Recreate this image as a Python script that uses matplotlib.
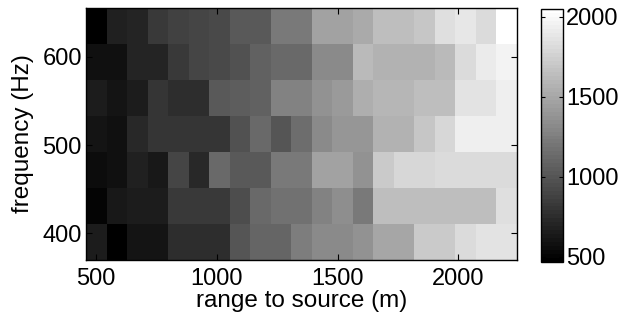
import numpy as np
import matplotlib
matplotlib.use("Agg")
import matplotlib.pyplot as plt

plt.rcParams['font.family'] = ['Liberation Sans', 'DejaVu Sans']

# range to source (m), cell centres
ranges = [500, 585, 670, 755, 840, 925, 1010, 1095, 1180, 1265, 1350,
          1435, 1520, 1605, 1690, 1775, 1860, 1945, 2030, 2115, 2200]
# frequency (Hz), cell centres
freqs = [390, 431, 472, 512, 553, 594, 635]

# values per frequency row (bottom to top)
row_390 = [645, 470, 605, 605, 755, 755, 755, 1000, 1100, 1100, 1250,
           1310, 1310, 1370, 1485, 1485, 1705, 1705, 1805, 1865, 1865]
row_431 = [505, 630, 655, 655, 830, 830, 830, 940, 1125, 1175, 1175,
           1260, 1345, 1210, 1650, 1650, 1650, 1650, 1650, 1650, 1830]
row_472 = [545, 580, 670, 620, 905, 730, 1125, 1025, 1025, 1225, 1225,
           1460, 1460, 1360, 1705, 1790, 1790, 1815, 1815, 1815, 1815]
row_512 = [605, 580, 730, 790, 790, 805, 805, 965, 1115, 1000, 1135,
           1325, 1395, 1395, 1570, 1570, 1695, 1790, 1940, 1940, 1940]
row_553 = [645, 595, 645, 790, 765, 765, 1015, 1040, 1075, 1260, 1260,
           1360, 1410, 1540, 1580, 1580, 1650, 1650, 1850, 1865, 1940]
row_594 = [580, 570, 715, 715, 815, 890, 925, 965, 1075, 1125, 1125,
           1310, 1310, 1605, 1570, 1570, 1570, 1615, 1805, 1915, 1970]
row_635 = [470, 680, 700, 815, 865, 895, 915, 1015, 1025, 1210, 1210,
           1470, 1470, 1510, 1645, 1645, 1680, 1825, 1890, 1805, 2045]

xticks = [500, 1000, 1500, 2000]
yticks = [400, 500, 600]
cticks = [500, 1000, 1500, 2000]

Z = np.array([row_390, row_431, row_472, row_512, row_553, row_594, row_635])

fig = plt.figure(figsize=(6.24, 3.22), dpi=100)
ax = fig.add_axes([86/624, 1-260/322, (517-86)/624, (260-8)/322])
cmap = plt.get_cmap('gray', 64)
mesh = ax.pcolormesh(ranges, freqs, Z, shading='nearest', cmap=cmap,
                     vmin=470, vmax=2045)
ax.set_xticks(xticks)
ax.set_yticks(yticks)
ax.tick_params(direction='in', length=4, width=0.8, labelsize=17,
               top=True, right=True, colors='black')
ax.tick_params(axis='x', pad=6)
ax.tick_params(axis='y', pad=3)
for s in ax.spines.values():
    s.set_linewidth(1.0)
ax.set_xlabel('range to source (m)', fontsize=17.5, labelpad=0)
ax.set_ylabel('frequency (Hz)', fontsize=17.5, labelpad=6)

cax = fig.add_axes([541/624, 1-261.7/322, (563-541)/624, 252.4/322])
cb = fig.colorbar(mesh, cax=cax, ticks=cticks)
cb.outline.set_linewidth(1.0)
cax.tick_params(direction='in', length=3, width=0.8, labelsize=17,
                left=True, right=True, pad=2)

fig.savefig('out.png', dpi=100)
